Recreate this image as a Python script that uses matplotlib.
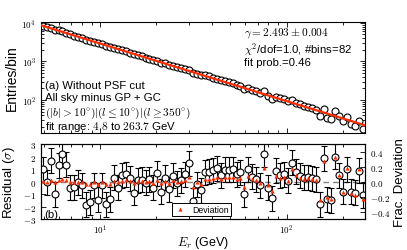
import numpy as np
import matplotlib
matplotlib.use('Agg')
import matplotlib.pyplot as plt
from matplotlib.ticker import FuncFormatter, FixedLocator, LogLocator, NullFormatter

# ---------------- data ----------------
gamma = 2.493
gamma_err = 0.004
n_bins = 82
e_min, e_max = 4.8, 263.7
norm_first_bin = 8400.0          # fitted entries in the first bin
chi2_dof = 1.0
fit_prob = 0.46

residual_sigma = [
    1.0, -0.05, 1.65, -1.0, 1.3, 2.2, 1.35, -0.5, -0.45, -0.05,
    -0.3, -1.85, -1.65, -0.3, -1.45, -0.3, -1.8, -1.4, 0.3, -0.5,
    0.5, 0.6, 0.25, -0.9, 0.1, 0.15, -0.1, 0.2, -0.5, 0.65,
    -0.8, 0.3, -0.6, 0.45, -0.15, 0.1, 0.6, 1.45, -1.55, -0.2,
    -0.7, 0.75, 0.8, 0.9, 1.05, 0.5, 0.95, 0.95, 1.0, 0.6,
    0.75, -1.0, 1.0, 0.4, 0.2, -0.3, 2.2, -0.5, -1.35, 0.85,
    0.5, 0.6, 0.05, 1.5, 0.8, 0.45, 0.3, 0.35, 0.25, 0.2,
    -1.8, 1.85, -1.4, -1.5, 2.0, 0.5, -0.8, 1.0, -0.8, -0.9,
    0.85, -1.1,
]

# ---------------- style ----------------
plt.rcParams['font.family'] = ['Liberation Sans', 'DejaVu Sans']
plt.rcParams['mathtext.fontset'] = 'cm'
RED = '#ff2a00'
TXT = 8.2

edges = np.geomspace(e_min, e_max, n_bins + 1)
centers = np.sqrt(edges[:-1] * edges[1:])
model = norm_first_bin * (centers / centers[0]) ** (1 - gamma)
resid = np.array(residual_sigma)
counts = model + resid * np.sqrt(model)
frac = (counts - model) / model

fig = plt.figure(figsize=(4.07, 2.51), dpi=100)
ax1 = fig.add_axes([0.100, 0.466, 0.797, 0.444])
ax2 = fig.add_axes([0.100, 0.1235, 0.797, 0.2985], sharex=ax1)

# ---- top panel ----
ax1.plot(centers, counts, 'o', mfc='white', mec='black', ms=5, mew=0.8, zorder=2)
e_line = np.array([e_min, e_max])
ax1.plot(e_line, norm_first_bin * (e_line / centers[0]) ** (1 - gamma),
         color=RED, lw=1.6, zorder=3)
ax1.set_xscale('log')
ax1.set_yscale('log')
ax1.set_xlim(e_min, e_max)
ax1.set_ylim(13.9, 1.08e4)
ax1.set_ylabel('Entries/bin', fontsize=10, labelpad=2)

def log_fmt(v, pos):
    return r'$10^{%d}$' % int(round(np.log10(v)))

ax1.yaxis.set_major_locator(FixedLocator([1e2, 1e3, 1e4]))
ax1.yaxis.set_major_formatter(FuncFormatter(log_fmt))
ax1.yaxis.set_minor_locator(LogLocator(base=10, subs=np.arange(2, 10)))
ax1.yaxis.set_minor_formatter(NullFormatter())
ax1.tick_params(which='both', direction='in', top=True, right=True, labelsize=6.5,
                labelbottom=False, width=0.6)
ax1.tick_params(which='major', length=3.5)
ax1.tick_params(which='minor', length=2)

ax1.text(0.627, 0.905, r'$\gamma = %.3f \pm %.3f$' % (gamma, gamma_err),
         transform=ax1.transAxes, fontsize=TXT, va='center', ha='left')
ax1.text(0.627, 0.757, r'$\chi^2$/dof=%.1f, #bins=%d' % (chi2_dof, n_bins),
         transform=ax1.transAxes, fontsize=TXT, va='center', ha='left')
ax1.text(0.627, 0.638, 'fit prob.=%.2f' % fit_prob,
         transform=ax1.transAxes, fontsize=TXT, va='center', ha='left')

ax1.text(0.012, 0.435, '(a) Without PSF cut', transform=ax1.transAxes,
         fontsize=TXT, va='center', ha='left')
ax1.text(0.012, 0.323, 'All sky minus GP + GC', transform=ax1.transAxes,
         fontsize=TXT, va='center', ha='left')
ax1.text(0.012, 0.190,
         r'$(|b|>10^{\circ})|(l\leq 10^{\circ})|(l\geq 350^{\circ})$',
         transform=ax1.transAxes, fontsize=TXT, va='center', ha='left')
ax1.text(0.012, 0.066, r'fit range: $%.1f$ to $%.1f$ GeV' % (e_min, e_max),
         transform=ax1.transAxes, fontsize=TXT, va='center', ha='left')

# ---- bottom panel ----
ax2.axhline(0, color='gray', ls='--', lw=1.0, dashes=(4, 3), zorder=1)
ax2.errorbar(centers, resid, yerr=1.0, fmt='o', mfc='white', mec='black',
             ecolor='black', ms=5, mew=0.8, elinewidth=0.8, capsize=2.5,
             capthick=0.8, zorder=3)
ax2.set_ylim(-3, 3)
ax2.set_xlim(e_min, e_max)
ax2.yaxis.set_major_locator(FixedLocator([-3, -2, -1, 0, 1, 2, 3]))
ax2.yaxis.set_major_formatter(FuncFormatter(lambda v, p: r'$%d$' % int(round(v))))
ax2.xaxis.set_major_locator(FixedLocator([10, 100]))
ax2.xaxis.set_major_formatter(FuncFormatter(log_fmt))
ax2.xaxis.set_minor_locator(LogLocator(base=10, subs=np.arange(2, 10)))
ax2.xaxis.set_minor_formatter(NullFormatter())
ax2.tick_params(which='both', direction='in', top=True, right=False, labelsize=6.5,
                width=0.6)
ax2.tick_params(axis='x', pad=2.5)
ax2.tick_params(which='major', length=3.5)
ax2.tick_params(which='minor', length=2)
ax2.set_ylabel(r'Residual ($\sigma$)', fontsize=9.5, labelpad=4)
ax2.set_xlabel(r'$E_r$ (GeV)', fontsize=9, labelpad=-1.5)
ax2.text(0.012, 0.07, '(b)', transform=ax2.transAxes, fontsize=TXT,
         va='center', ha='left')

ax3 = ax2.twinx()
ax3.plot(centers, frac, '^', color=RED, ms=3, mew=0, label='Deviation', zorder=4)
ax3.set_ylim(-0.5, 0.5)
ax3.yaxis.set_major_locator(FixedLocator([-0.4, -0.2, 0.0, 0.2, 0.4]))
ax3.yaxis.set_major_formatter(FuncFormatter(lambda v, p: r'$%.1f$' % (0.0 if abs(v) < 1e-9 else v)))
ax3.tick_params(which='both', direction='in', labelsize=6.5, width=0.6, length=3.5)
ax3.set_ylabel('Frac. Deviation', fontsize=9.5, labelpad=3)
leg = ax3.legend(loc='lower left', bbox_to_anchor=(0.405, 0.04), fontsize=6.3,
                 frameon=True, fancybox=False, edgecolor='black', framealpha=1,
                 borderpad=0.25, handlelength=1.2, handletextpad=0.8,
                 borderaxespad=0)
leg.get_frame().set_linewidth(0.7)

fig.savefig('out.png', dpi=100)
